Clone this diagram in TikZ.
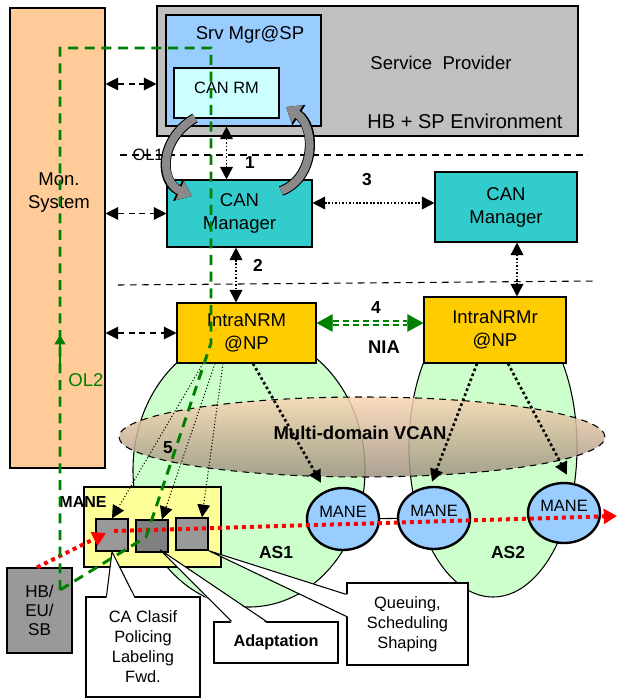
\documentclass[tikz,border=0pt]{standalone}
\usepackage{fontspec}
\setmainfont{Liberation Sans}
\usepackage{tikz}
\usetikzlibrary{arrows.meta,shapes.geometric,calc}
\tikzset{>={Triangle[width=9.5pt,length=9.5pt]}}
\definecolor{monpeach}{HTML}{FFCC99}
\definecolor{spgray}{HTML}{C0C0C0}
\definecolor{srvblue}{HTML}{99CCFF}
\definecolor{rmcyan}{HTML}{CCFFFF}
\definecolor{canteal}{HTML}{33CCCC}
\definecolor{nrmgold}{HTML}{FFCC00}
\definecolor{asgreen}{HTML}{CCFFCC}
\definecolor{maneyellow}{HTML}{FFFF99}
\definecolor{sqgray}{HTML}{999999}
\definecolor{sqdark}{HTML}{808080}
\definecolor{bendgray}{HTML}{8A8A8A}
\definecolor{olgreen}{HTML}{008000}
\definecolor{vcantop}{HTML}{FAD6B4}
\definecolor{vcanbot}{HTML}{9C917F}
\newcommand{\GREEN}[1]{\textcolor{olgreen}{#1}}
\newcommand\U{0.75pt}
\newcommand\bigf{\fontsize{13.9}{17.3}\selectfont}
\newcommand\midf{\fontsize{12.3}{15}\selectfont}
\newcommand\numf{\fontsize{13}{15}\selectfont\bfseries}

\begin{document}
\begin{tikzpicture}[x=0.75pt,y=-0.75pt,
  box/.style={draw, line width=0.8pt, inner sep=0pt, align=center, font=\bigf},
  sq/.style={draw, line width=1.1pt, minimum size=32*\U, inner sep=0pt},
  mane/.style={ellipse, draw, line width=1.8pt, fill=srvblue, inner sep=0pt,
    minimum width=72*\U, minimum height=62*\U, text depth=10pt, font=\midf},
  sepline/.style={line width=0.8pt, dash pattern=on 5pt off 4pt},
  dasharr/.style={<->, line width=0.9pt, dash pattern=on 4.5pt off 3.5pt},
  dotarr/.style={<->, line width=1.3pt, dash pattern=on 1.3pt off 1.3pt},
  thindot/.style={->, line width=0.8pt, dash pattern=on 0.8pt off 1.6pt},
  thickdot/.style={->, line width=2pt, dash pattern=on 2pt off 2pt},
  reddot/.style={draw=red, line width=3pt, dash pattern=on 3pt off 3pt,
    -{Triangle[length=10pt,width=11pt]}},
  olloop/.style={draw=olgreen, line width=2.2pt, dash pattern=on 7.5pt off 5pt},
  nialine/.style={draw=olgreen, line width=1.4pt, double=white,
    double distance=1.6pt, dash pattern=on 4.5pt off 3pt},
  niatip/.style={draw=olgreen, line width=0.8pt, -{Triangle[length=12pt,width=13pt]}},
  bendarr/.style={draw=bendgray, line width=6pt, -{Triangle[length=10pt,width=15pt]},
    preaction={draw=black, line width=7.6pt, -{Triangle[length=11.5pt,width=17.5pt]}}},
  cpoint/.style={line width=0.8pt}]

  \useasboundingbox (0,0) rectangle (617,698);

  %% monitoring and provider side
  \node[box, fill=monpeach, minimum width=95*\U, minimum height=460*\U] (mon) at (57.5,238) {};
  \node[font=\bigf, align=center] (monlbl) at (59,193) {Mon.\\System};
  \node[box, fill=spgray, minimum width=421*\U, minimum height=130*\U] (sp) at (367.5,71) {};
  \node[font=\bigf] (splbl) at (441,63) {Service\ \ Provider};
  \node[font=\fontsize{15}{18}\selectfont] (envlbl) at (465,121) {HB + SP Environment};
  \node[box, fill=srvblue, minimum width=155*\U, minimum height=111*\U] (srv) at (243.5,70.5) {};
  \node[font=\bigf] (srvlbl) at (250,35) {Srv Mgr@SP};
  \node[box, fill=rmcyan, minimum width=105*\U, minimum height=50*\U, font=\midf,
    text depth=8pt] (canrm) at (226.5,93) {CAN RM};

  %% layer borders
  \node[font=\midf] (ol1) at (148,155) {OL1};
  \coordinate (ol1w) at (120,155);
  \coordinate (ol1e) at (588,155);
  \draw[sepline] (ol1w) -- (ol1e);
  \coordinate (sepw) at (118,285);
  \coordinate (sepe) at (597,281);
  \draw[sepline] (sepw) -- (sepe);

  %% AS domains
  \node[ellipse, draw, line width=0.8pt, fill=asgreen, minimum width=232*\U,
    minimum height=274*\U] (as1) at (249,470) {};
  \node[ellipse, draw, line width=0.8pt, fill=asgreen, minimum width=168*\U,
    minimum height=300*\U] (as2) at (493,447) {};

  %% managers
  \node[box, fill=canteal, minimum width=145*\U, minimum height=67*\U] (canm1) at (239.5,213.5) {CAN\\Manager};
  \node[box, fill=canteal, minimum width=142*\U, minimum height=70*\U] (canm2) at (506,207) {CAN\\Manager};
  \node[box, fill=nrmgold, minimum width=139*\U, minimum height=60*\U] (nrm1) at (246.5,333) {IntraNRM\\@NP};
  \node[box, fill=nrmgold, minimum width=142*\U, minimum height=66*\U] (nrm2) at (495,330) {IntraNRMr\\@NP};

  %% virtual CAN across both domains
  \node[ellipse, draw, line width=0.8pt, dash pattern=on 5pt off 4pt, top color=vcantop,
    bottom color=vcanbot, fill opacity=0.85, minimum width=486*\U, minimum height=80*\U] (vcan) at (362,437) {};
  \node[font=\bigf\bfseries] (vcanlbl) at (360,433) {Multi-domain VCAN};

  %% edge nodes
  \node[mane] (m1) at (343,519) {MANE};
  \node[mane] (m2) at (434,518) {MANE};
  \node[mane, minimum height=60*\U] (m3) at (564,513) {MANE};
  \draw[line width=0.8pt] (m1) -- (m2);

  \node[box, fill=maneyellow, minimum width=137*\U, minimum height=80*\U] (manebox) at (152.5,527) {};
  \node[font=\fontsize{12}{14}\selectfont\bfseries] (manelbl) at (83,502) {MANE};
  \node[sq, fill=sqgray] (q1) at (112,535) {};
  \node[sq, fill=sqdark] (q2) at (152,536) {};
  \node[sq, fill=sqgray] (q3) at (192,534) {};
  \node[box, fill=sqgray, minimum width=65*\U, minimum height=85*\U,
    font=\fontsize{12.8}{14.5}\selectfont] (hb) at (39.5,610.5) {HB/\\EU/\\SB};

  %% callouts
  \node[box, fill=white, minimum width=114*\U, minimum height=100*\U, font=\midf] (c1) at (143,647)
    {CA Clasif\\Policing\\Labeling\\Fwd.};
  \fill[white] ($(c1.north west)+(21,1.5)$) -- (q1.south) -- ($(c1.north west)+(49,1.5)$) -- cycle;
  \draw[cpoint] ($(c1.north west)+(21,0)$) -- (q1.south) -- ($(c1.north west)+(49,0)$);

  \node[box, fill=white, minimum width=124*\U, minimum height=41*\U,
    font=\fontsize{12.2}{14}\selectfont\bfseries] (c2) at (276,642.5) {Adaptation};
  \fill[white] ($(c2.north west)+(18,1.5)$) -- ($(q2.south)+(8,-3)$) -- ($(c2.north west)+(53,1.5)$) -- cycle;
  \draw[cpoint] ($(c2.north west)+(18,0)$) -- ($(q2.south)+(8,-3)$) -- ($(c2.north west)+(53,0)$);

  \node[box, fill=white, minimum width=121*\U, minimum height=82*\U, font=\midf] (c3) at (407.5,624)
    {Queuing,\\Scheduling\\Shaping};
  \fill[white] ($(c3.north west)+(1.5,12)$) -- (q3.south east) -- ($(c3.north west)+(1.5,34)$) -- cycle;
  \draw[cpoint] ($(c3.north west)+(0,12)$) -- (q3.south east) -- ($(c3.north west)+(0,34)$);

  %% monitoring links
  \draw[dasharr] (mon.east |- 0,84) -- (sp.west |- 0,84);
  \draw[dasharr] (mon.east |- canm1.west) -- (canm1.west);
  \draw[dasharr] (mon.east |- nrm1.west) -- (nrm1.west);

  %% interfaces 1 - 4
  \draw[dotarr] (srv.south -| canrm.south) -- (canm1.north -| canrm.south); %% 1
  \draw[dotarr] (canm1.south -| 236,0) -- (nrm1.north -| 236,0); %% 2
  \draw[dotarr] (canm1.east |- 0,203) -- (canm2.west |- 0,203); %% 3
  \draw[dotarr] (canm2.south -| 517,0) -- (nrm2.north -| 517,0);

  \coordinate (nia1) at (nrm1.east |- 0,323);
  \coordinate (nia2) at (nrm2.west |- 0,323);
  \draw[nialine] ($(nia1)+(16,0)$) -- ($(nia2)+(-16,0)$); %% 4
  \draw[niatip] ($(nia1)+(16,0)$) -- (nia1);
  \draw[niatip] ($(nia2)+(-16,0)$) -- (nia2);

  %% 5: down to the MANE blocks
  \draw[thindot] (nrm1.south -| 203,0) -- (q1.north);
  \draw[thindot] (nrm1.south -| 215,0) -- ($(q2.north)+(10,0)$);
  \draw[thindot] (nrm1.south -| 223,0) -- ($(q3.north)+(10,0)$);

  \draw[thickdot] (nrm1.south -| 253,0) -- ($(m1.north)+(-22,-4)$);
  \draw[thickdot] (nrm2.south -| 477,0) -- ($(m2.north)+(-2,-4)$);
  \draw[thickdot] (nrm2.south -| 508,0) -- ($(m3.north)+(3,-7)$);

  %% OL1 round trip
  \draw[bendarr] (195,118) .. controls (158,140) and (160,182) .. (192,196);
  \draw[bendarr] (281,191) .. controls (316,178) and (316,126) .. (286,107);

  %% data flow
  \coordinate (flowout) at (617,516);
  \draw[reddot] (hb.north -| 37,0) -- ($(q1.center)+(-6,-2)$);
  \draw[reddot] ($(q1.center)+(2,-4)$) -- (flowout);

  %% OL2 loop
  \coordinate (g1) at (60,590);
  \coordinate (g2) at (60,48);
  \coordinate (g3) at (211,48);
  \coordinate (g4) at (211,343);
  \coordinate (g5) at (146,537);
  \draw[olloop] (g1) -- (g2) -- (g3) -- (g4) -- (g5) -- cycle;
  \coordinate (ol2a) at (60,372);
  \coordinate (ol2b) at (60,335);
  \draw[olgreen, line width=2.2pt, -{Triangle[length=7pt,width=8pt]}] (ol2a) -- (ol2b);
  \node[font=\bigf] (ol2) at (86,380) {\GREEN{OL2}};

  %% labels
  \node[font=\numf] (n1) at (250,163) {1};
  \node[font=\numf] (n2) at (258,265) {2};
  \node[font=\numf] (n3) at (367,180) {3};
  \node[font=\numf] (n4) at (376,308) {4};
  \node[font=\fontsize{13.8}{16}\selectfont\bfseries] (nia) at (384,347) {NIA};
  \node[font=\numf] (n5) at (168,448) {5};
  \node[font=\fontsize{13.1}{15}\selectfont\bfseries] (as1lbl) at (276,552) {AS1};
  \node[font=\fontsize{13.1}{15}\selectfont\bfseries] (as2lbl) at (508,552) {AS2};

\end{tikzpicture}
\end{document}
